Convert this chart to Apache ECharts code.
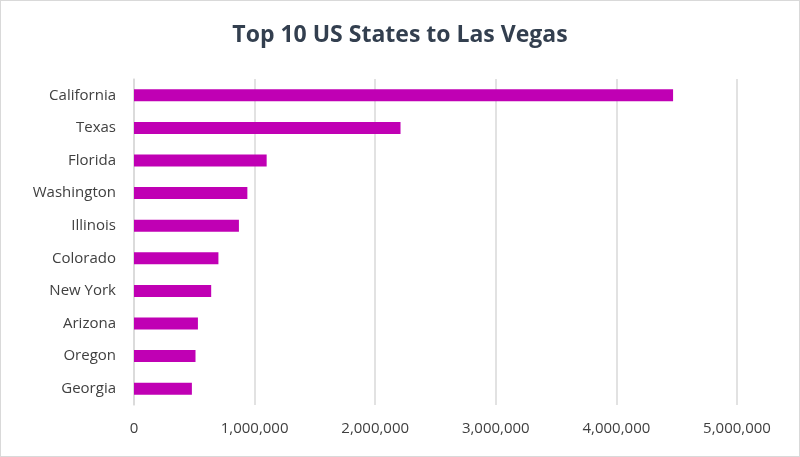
<!DOCTYPE html>
<html>
<head>
<meta charset="utf-8">
<script src="https://cdn.jsdelivr.net/npm/echarts@6/dist/echarts.min.js"></script>
<style>
html,body{margin:0;padding:0;background:#fff;}
#main{width:798px;height:455px;border:1px solid #d9d9d9;}
</style>
</head>
<body>
<div id="main"></div>
<script>
// 州名（从上到下）
var states = ['California','Texas','Florida','Washington','Illinois','Colorado','New York','Arizona','Oregon','Georgia'];
// 访客数
var visitors = [4470000,2210000,1100000,940000,870000,700000,640000,530000,510000,480000];

var chart = echarts.init(document.getElementById('main'));
var option = {
    title: {
        text: 'Top 10 US States to Las Vegas',
        left: 'center',
        top: 18,
        textStyle: {
            color: '#333f4f',
            fontSize: 23,
            fontWeight: 'bold',
            fontFamily: 'Open Sans'
        }
    },
    grid: {
        left: 133,
        right: 62,
        top: 78,
        bottom: 51
    },
    xAxis: {
        type: 'value',
        min: 0,
        max: 5000000,
        interval: 1000000,
        axisLine: {show: false},
        axisTick: {show: false},
        splitLine: {lineStyle: {color: '#d9d9d9', width: 1.5}},
        axisLabel: {
            color: '#404040',
            fontSize: 15,
            fontFamily: 'Open Sans',
            margin: 16,
            formatter: function (v) { return v.toLocaleString('en-US'); }
        }
    },
    yAxis: {
        type: 'category',
        inverse: true,
        data: states,
        axisLine: {lineStyle: {color: '#d9d9d9', width: 1.5}},
        axisTick: {show: false},
        axisLabel: {
            color: '#404040',
            fontSize: 15,
            fontFamily: 'Open Sans',
            margin: 18
        }
    },
    series: [
        {
            type: 'bar',
            data: visitors,
            barWidth: 12,
            itemStyle: {color: '#c000b4'}
        }
    ]
};
chart.setOption(option);
</script>
</body>
</html>
